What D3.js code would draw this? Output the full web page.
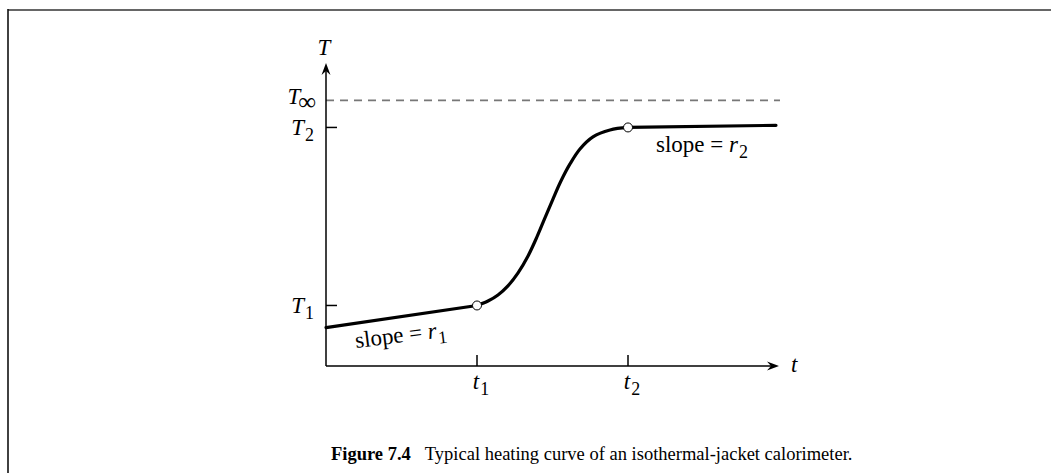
<!DOCTYPE html>
<html>
<head>
<meta charset="utf-8">
<script src="https://cdn.jsdelivr.net/npm/d3@7"></script>
<style>
  html, body { margin: 0; padding: 0; background: #fff; }
  svg { display: block; }
  text { font-family: "Liberation Serif", "DejaVu Serif", serif; fill: #000; }
</style>
</head>
<body>
<svg id="chart" width="1051" height="473"></svg>
<script>
// Heating curve: initial drift, sigmoid rise, final drift (t in arbitrary units, T relative)
const driftBefore = [[0, 0.876], [1, 1]];
const rise = [
  [1.000, 1.000], [1.073, 1.025], [1.139, 1.059], [1.205, 1.110],
  [1.272, 1.183], [1.338, 1.278], [1.397, 1.385], [1.450, 1.492],
  [1.503, 1.598], [1.556, 1.699], [1.616, 1.795], [1.682, 1.879],
  [1.768, 1.947], [1.881, 1.986], [2.000, 2.000]
];
const driftAfter = [[2, 2], [2.98, 2.012]];
const markers = [[1, 1], [2, 2]];
const tTicks = [{ v: 1, base: "t", sub: "1" }, { v: 2, base: "t", sub: "2" }];
const TTicks = [{ v: 1, base: "T", sub: "1" }, { v: 2, base: "T", sub: "2" }];
const Tinf = 2.152;
const caption = { bold: "Figure 7.4", text: "Typical heating curve of an isothermal-jacket calorimeter." };

const svg = d3.select("#chart");
const x = d3.scaleLinear().domain([0, 3]).range([326, 779]);
const y = d3.scaleLinear().domain([0.66, 2.362]).range([366, 63]);

// page frame (top rule and left rule)
svg.append("line").attr("x1", 8).attr("x2", 1051).attr("y1", 10).attr("y2", 10)
  .attr("stroke", "#666").attr("stroke-width", 2);
svg.append("line").attr("x1", 8).attr("x2", 8).attr("y1", 9).attr("y2", 473)
  .attr("stroke", "#111").attr("stroke-width", 1.6);

const x0 = x(0), y0 = y(0.66), xEnd = x(3), yTop = y(2.362);

// asymptote
svg.append("line").attr("x1", x0).attr("x2", x(3) + 1).attr("y1", y(Tinf)).attr("y2", y(Tinf))
  .attr("stroke", "#777").attr("stroke-width", 1.6).attr("stroke-dasharray", "8,6");

// axes
svg.append("line").attr("x1", x0).attr("x2", xEnd - 4).attr("y1", y0).attr("y2", y0)
  .attr("stroke", "#000").attr("stroke-width", 1.5);
svg.append("line").attr("x1", x0).attr("x2", x0).attr("y1", y0).attr("y2", yTop + 4)
  .attr("stroke", "#000").attr("stroke-width", 1.5);
svg.append("path")
  .attr("d", `M${xEnd},${y0} L${xEnd - 12},${y0 - 4.5} L${xEnd - 8},${y0} L${xEnd - 12},${y0 + 4.5} Z`)
  .attr("fill", "#000");
svg.append("path")
  .attr("d", `M${x0},${yTop} L${x0 - 4.5},${yTop + 12} L${x0},${yTop + 8} L${x0 + 4.5},${yTop + 12} Z`)
  .attr("fill", "#000");

// ticks
svg.selectAll(".tt").data(tTicks).join("line")
  .attr("x1", d => x(d.v)).attr("x2", d => x(d.v)).attr("y1", y0).attr("y2", y0 - 11)
  .attr("stroke", "#000").attr("stroke-width", 1.5);
svg.selectAll(".TT").data(TTicks).join("line")
  .attr("x1", x0).attr("x2", x0 + 11).attr("y1", d => y(d.v)).attr("y2", d => y(d.v))
  .attr("stroke", "#000").attr("stroke-width", 1.5);

const fs = 23;
function subLabel(g, base, sub) {
  const t = g.append("text").attr("font-size", fs);
  t.append("tspan").attr("font-style", "italic").text(base);
  t.append("tspan").attr("dy", 6).attr("dx", 1).attr("font-size", fs * 0.78).text(sub);
  return t;
}

tTicks.forEach(d => {
  subLabel(svg.append("g").attr("transform", `translate(${x(d.v)},${y0 + 23})`), d.base, d.sub)
    .attr("text-anchor", "middle").attr("x", 4);
});
TTicks.forEach(d => {
  subLabel(svg.append("g").attr("transform", `translate(${x0 - 12},${y(d.v) + 8})`), d.base, d.sub)
    .attr("text-anchor", "end");
});
// T-infinity label
{
  const t = svg.append("text").attr("font-size", fs).attr("x", x0 - 10).attr("y", y(Tinf) + 4)
    .attr("text-anchor", "end");
  t.append("tspan").attr("font-style", "italic").text("T");
  t.append("tspan").attr("dy", 6).attr("dx", -2).attr("font-size", 25).text("∞");
}

// axis titles
svg.append("text").attr("font-size", fs).attr("font-style", "italic")
  .attr("x", x0 - 2).attr("y", yTop - 8).attr("text-anchor", "middle").text("T");
svg.append("text").attr("font-size", fs).attr("font-style", "italic")
  .attr("x", xEnd + 12).attr("y", y0 + 6).text("t");

// curve
const line = d3.line().x(d => x(d[0])).y(d => y(d[1]));
const smooth = d3.line().x(d => x(d[0])).y(d => y(d[1])).curve(d3.curveCatmullRom.alpha(0.5));
[line(driftBefore), smooth(rise), line(driftAfter)].forEach(dStr => {
  svg.append("path").attr("d", dStr).attr("fill", "none").attr("stroke", "#000")
    .attr("stroke-width", 3.2).attr("stroke-linecap", "round").attr("stroke-linejoin", "round");
});

svg.selectAll(".mk").data(markers).join("circle")
  .attr("cx", d => x(d[0])).attr("cy", d => y(d[1])).attr("r", 4.5)
  .attr("fill", "#fff").attr("stroke", "#000").attr("stroke-width", 1);

// slope annotations
{
  const ang = Math.atan2(y(driftBefore[1][1]) - y(driftBefore[0][1]), x(1) - x(0)) * 180 / Math.PI;
  const g = svg.append("g").attr("transform", `translate(356,348) rotate(${ang * 0.85})`);
  const t = g.append("text").attr("font-size", fs);
  t.append("tspan").text("slope = ");
  t.append("tspan").attr("font-style", "italic").text("r");
  t.append("tspan").attr("dy", 6).attr("dx", 1).attr("font-size", fs * 0.78).text("1");
}
{
  const t = svg.append("text").attr("font-size", fs).attr("x", 656).attr("y", 152);
  t.append("tspan").text("slope = ");
  t.append("tspan").attr("font-style", "italic").text("r");
  t.append("tspan").attr("dy", 6).attr("dx", 1).attr("font-size", fs * 0.78).text("2");
}

// caption
{
  const t = svg.append("text").attr("font-size", 18.5).attr("x", 331).attr("y", 460);
  t.append("tspan").attr("font-weight", "bold").text(caption.bold);
  t.append("tspan").attr("dx", 14).text(caption.text);
}
</script>
</body>
</html>
